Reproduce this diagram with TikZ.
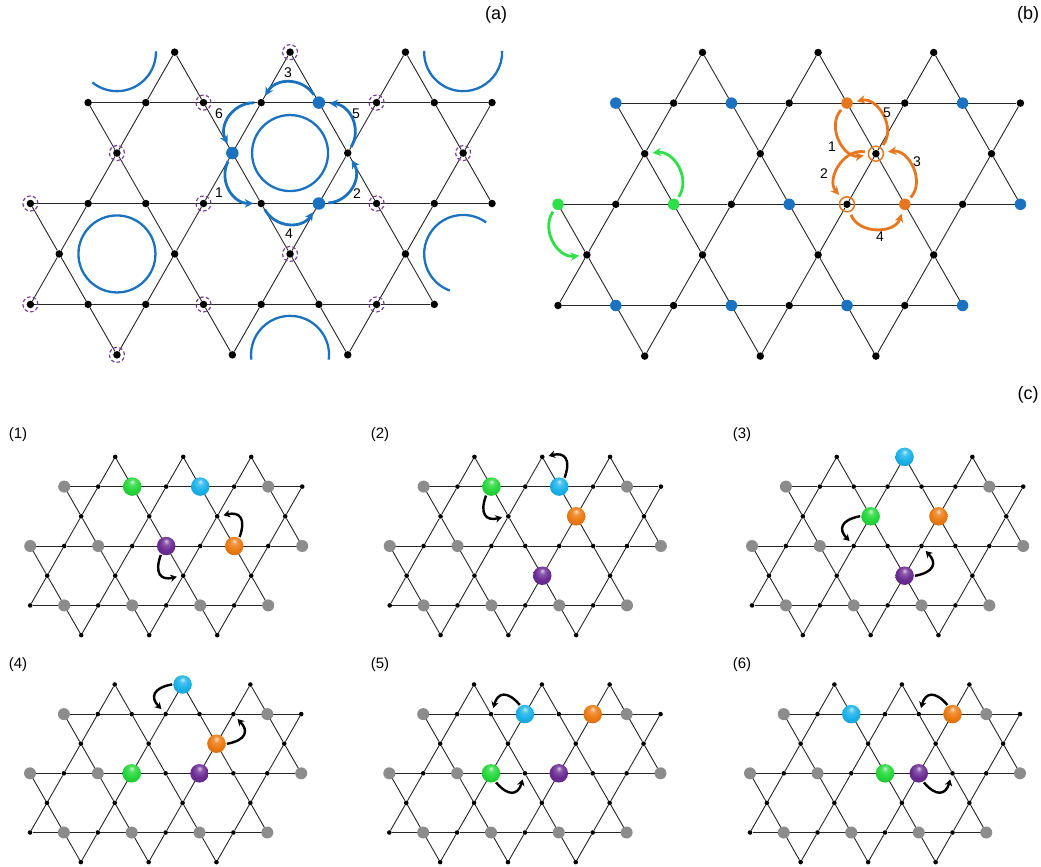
\documentclass[tikz,border=0pt]{standalone}
\usepackage{fontspec}
\setmainfont{Liberation Sans}
\usetikzlibrary{arrows.meta,calc}
\definecolor{kblue}{HTML}{1A72C0}
\definecolor{korange}{HTML}{E8761E}
\definecolor{kgreen}{HTML}{2EE048}
\definecolor{kpurple}{HTML}{7A3D9C}
\definecolor{bgreen}{HTML}{25D83A}
\definecolor{bcyan}{HTML}{1AB2EA}
\definecolor{borange}{HTML}{EC7A12}
\definecolor{bpurple}{HTML}{6C2C94}
\makeatletter
\pgfdeclareradialshading[tikz@ball]{gloss}{\pgfqpoint{0bp}{14bp}}{%
  color(0bp)=(tikz@ball!25!white); color(8bp)=(tikz@ball!80!white);
  color(20bp)=(tikz@ball); color(38bp)=(tikz@ball!85!black);
  color(50bp)=(tikz@ball!70!black)}
\makeatother
% kagome patch: #1 name, #2 x of first site in row 4, #3 y of row 4, #4 bond length, #5 row height, #6 dot style
\newcommand{\kagome}[6]{%
  \foreach \r/\lst in {2/{1,...,8},4/{0,...,8},6/{0,...,7}}
    \foreach \i in \lst
      \node[#6] (#1-\r-\i) at ({#2+\i*#4},{-#3-(\r-4)*#5}) {};
  \foreach \r/\lst in {1/{2,4,6},3/{1,3,5,7},5/{0,2,4,6},7/{1,3,5}}
    \foreach \m in \lst
      \node[#6] (#1-\r-\m) at ({#2+(\m+0.5)*#4},{-#3-(\r-4)*#5}) {};
  % horizontal bonds
  \foreach \r/\lst in {2/{1,2,3,4,5,6,7},4/{0,1,2,3,4,5,6,7},6/{0,1,2,3,4,5,6}} {
    \foreach \i [evaluate=\i as \ii using int(\i+1)] in \lst
      \draw[bond] (#1-\r-\i) -- (#1-\r-\ii);
  }
  % bonds down from the sparse rows
  \foreach \r/\lst in {1/{2,4,6},3/{1,3,5,7},5/{0,2,4,6}} {
    \pgfmathtruncatemacro\rr{\r+1}
    \foreach \m [evaluate=\m as \mm using int(\m+1)] in \lst
      \draw[bond] (#1-\r-\m) -- (#1-\rr-\m) (#1-\r-\m) -- (#1-\rr-\mm);
  }
  % bonds up from the sparse rows
  \foreach \r/\lst in {3/{1,3,5,7},5/{0,2,4,6},7/{1,3,5}} {
    \pgfmathtruncatemacro\rr{\r-1}
    \foreach \m [evaluate=\m as \mm using int(\m+1)] in \lst
      \draw[bond] (#1-\r-\m) -- (#1-\rr-\m) (#1-\r-\m) -- (#1-\rr-\mm);
  }
}

\begin{document}
\begin{tikzpicture}[x=1pt, y=1pt,
  bond/.style={draw=black!85, line width=0.9pt},
  bdot/.style={circle, fill=black, inner sep=0pt, minimum size=7.5pt},
  sdot/.style={circle, fill=black, inner sep=0pt, minimum size=4.6pt},
  spot/.style={circle, fill=#1, inner sep=0pt, minimum size=11.5pt},
  oring/.style={circle, draw=korange, line width=1.5pt, inner sep=0pt, minimum size=15pt},
  pring/.style={draw=kpurple, line width=1.2pt, dash pattern=on 3.5pt off 2.3pt},
  hexring/.style={draw=kblue, line width=2.3pt},
  sphere/.style={circle, inner sep=0pt, minimum size=18.5pt, ball color=#1, shading=gloss},
  gball/.style={circle, fill=black!45, inner sep=0pt, minimum size=12pt},
  hop/.style={-{Stealth[length=8.5pt,width=8.5pt]}, line width=2.8pt,
              shorten <=3pt, shorten >=4pt, bend right=#1, looseness=1.2},
  hop/.default=58,
  move/.style={-{Stealth[length=6.5pt,width=7.5pt]}, line width=2.4pt,
               shorten <=1pt, shorten >=4pt, bend right=62, looseness=1.8},
  lbl/.style={font=\fontsize{14}{16}\selectfont},
  paneltag/.style={font=\fontsize{18}{20}\selectfont},
  subtag/.style={font=\fontsize{15}{17}\selectfont}]
\useasboundingbox (0,0) rectangle (1041,-867);

% ---------------- (a)
\kagome{a}{30.4}{203.5}{57.7}{50.45}{bdot}
\foreach \p in {1-4,2-3,2-6,3-1,3-7,4-0,4-3,4-6,5-4,6-0,6-3,6-6,7-1}
  \draw[pring] (a-\p) circle[radius=7.5];
\draw[hexring] ($(a-2-4)!0.5!(a-4-5)$) circle[radius=38];
\draw[hexring] ($(a-4-1)!0.5!(a-6-2)$) circle[radius=38.5];
\draw[hexring] ($(a-3-1)+(0,100.9)$) ++(231:39) arc[start angle=231, end angle=361, radius=39];
\draw[hexring] ($(a-3-7)+(0,100.9)$) ++(178:39) arc[start angle=178, end angle=362, radius=39];
\draw[hexring] ($(a-3-7)+(0,-100.9)$) ++(54:39) arc[start angle=54, end angle=250, radius=39];
\draw[hexring] ($(a-5-4)+(0,-100.9)$) ++(-7:39) arc[start angle=-7, end angle=187, radius=39];
\node[spot=kblue, minimum size=12.5pt] (a-s1) at (a-2-5) {};
\node[spot=kblue, minimum size=12.5pt] (a-s2) at (a-3-3) {};
\node[spot=kblue, minimum size=12.5pt] (a-s3) at (a-4-5) {};
\draw[hop, kblue] (a-s1) to (a-2-4);
\draw[hop, kblue] (a-2-4) to (a-s2);
\draw[hop, kblue] (a-s2) to (a-4-4);
\draw[hop, kblue] (a-4-4) to (a-s3);
\draw[hop, kblue] (a-s3) to (a-3-5);
\draw[hop, kblue] (a-3-5) to (a-s1);
\node[lbl] (a-n1) at (219,-193) {1};
\node[lbl] (a-n2) at (357,-194) {2};
\node[lbl] (a-n3) at (288,-73) {3};
\node[lbl] (a-n4) at (289,-234) {4};
\node[lbl] (a-n5) at (356,-114) {5};
\node[lbl] (a-n6) at (219,-114) {6};

% ---------------- (b)
\kagome{b}{558}{204.3}{57.8}{50.6}{bdot}
\foreach \p in {2-1,2-3,2-7,4-4,4-8,6-1,6-3,6-5,6-7}
  \node[spot=kblue] (b-b\p) at (b-\p) {};
\node[spot=korange] (b-o1) at (b-2-5) {};
\node[spot=korange] (b-o2) at (b-4-6) {};
\node[spot=kgreen] (b-g1) at (b-4-0) {};
\node[spot=kgreen] (b-g2) at (b-4-2) {};
\node[oring] (b-r1) at (b-3-5) {};
\node[oring] (b-r2) at (b-4-5) {};
\draw[hop=70, korange] (b-o1) to (b-r1);
\draw[hop=70, korange] (b-r1) to (b-o1);
\draw[hop=70, korange] (b-r1) to (b-r2);
\draw[hop=70, korange] (b-o2) to (b-r1);
\draw[hop=70, korange] (b-r2) to (b-o2);
\draw[hop=65, kgreen] (b-g1) to (b-5-0);
\draw[hop=65, kgreen] (b-g2) to (b-3-1);
\node[lbl] (b-n1) at (832,-147) {1};
\node[lbl] (b-n2) at (824,-174) {2};
\node[lbl] (b-n3) at (917,-162) {3};
\node[lbl] (b-n4) at (880,-237) {4};
\node[lbl] (b-n5) at (887,-113) {5};

% ---------------- (c)
\kagome{c1}{30.2}{546}{34}{29.7}{sdot}
\kagome{c2}{389.7}{546}{33.9}{29.7}{sdot}
\kagome{c3}{752}{546}{33.9}{29.7}{sdot}
\kagome{c4}{30}{773.3}{33.9}{29.6}{sdot}
\kagome{c5}{389.3}{773.3}{33.9}{29.6}{sdot}
\kagome{c6}{750}{773.3}{33.75}{29.6}{sdot}
\foreach \c in {c1,c2,c3,c4,c5,c6}
  \foreach \p in {2-1,2-7,4-0,4-2,4-8,6-1,6-3,6-5,6-7}
    \node[gball] (\c-g\p) at (\c-\p) {};

% (1)
\node[sphere=bgreen] (c1-gn) at (c1-2-3) {};
\node[sphere=bcyan] (c1-cy) at (c1-2-5) {};
\node[sphere=bpurple] (c1-pu) at (c1-4-4) {};
\node[sphere=borange] (c1-or) at (c1-4-6) {};
\draw[move] (c1-or) to (c1-3-5);
\draw[move] (c1-pu) to (c1-5-4);
% (2)
\node[sphere=bgreen] (c2-gn) at (c2-2-3) {};
\node[sphere=bcyan] (c2-cy) at (c2-2-5) {};
\node[sphere=borange] (c2-or) at (c2-3-5) {};
\node[sphere=bpurple] (c2-pu) at (c2-5-4) {};
\draw[move] (c2-cy) to (c2-1-4);
\draw[move] (c2-gn) to (c2-3-3);
% (3)
\node[sphere=bcyan] (c3-cy) at (c3-1-4) {};
\node[sphere=bgreen] (c3-gn) at (c3-3-3) {};
\node[sphere=borange] (c3-or) at (c3-3-5) {};
\node[sphere=bpurple] (c3-pu) at (c3-5-4) {};
\draw[move] (c3-gn) to (c3-4-3);
\draw[move] (c3-pu) to (c3-4-5);
% (4)
\node[sphere=bcyan] (c4-cy) at (c4-1-4) {};
\node[sphere=borange] (c4-or) at (c4-3-5) {};
\node[sphere=bgreen] (c4-gn) at (c4-4-3) {};
\node[sphere=bpurple] (c4-pu) at (c4-4-5) {};
\draw[move] (c4-cy) to (c4-2-4);
\draw[move] (c4-or) to (c4-2-6);
% (5)
\node[sphere=bcyan] (c5-cy) at (c5-2-4) {};
\node[sphere=borange] (c5-or) at (c5-2-6) {};
\node[sphere=bgreen] (c5-gn) at (c5-4-3) {};
\node[sphere=bpurple] (c5-pu) at (c5-4-5) {};
\draw[move] (c5-cy) to (c5-2-3);
\draw[move] (c5-gn) to (c5-4-4);
% (6)
\node[sphere=bcyan] (c6-cy) at (c6-2-3) {};
\node[sphere=borange] (c6-or) at (c6-2-6) {};
\node[sphere=bgreen] (c6-gn) at (c6-4-4) {};
\node[sphere=bpurple] (c6-pu) at (c6-4-5) {};
\draw[move] (c6-or) to (c6-2-5);
\draw[move] (c6-pu) to (c6-4-6);

% panel tags
\node[paneltag] (tag-a) at (496,-15) {(a)};
\node[paneltag] (tag-b) at (1028,-15) {(b)};
\node[paneltag] (tag-c) at (1028,-395) {(c)};
\node[subtag] (tag-1) at (18,-435) {(1)};
\node[subtag] (tag-2) at (380,-435) {(2)};
\node[subtag] (tag-3) at (742,-435) {(3)};
\node[subtag] (tag-4) at (18,-665) {(4)};
\node[subtag] (tag-5) at (380,-665) {(5)};
\node[subtag] (tag-6) at (742,-665) {(6)};
\end{tikzpicture}
\end{document}
